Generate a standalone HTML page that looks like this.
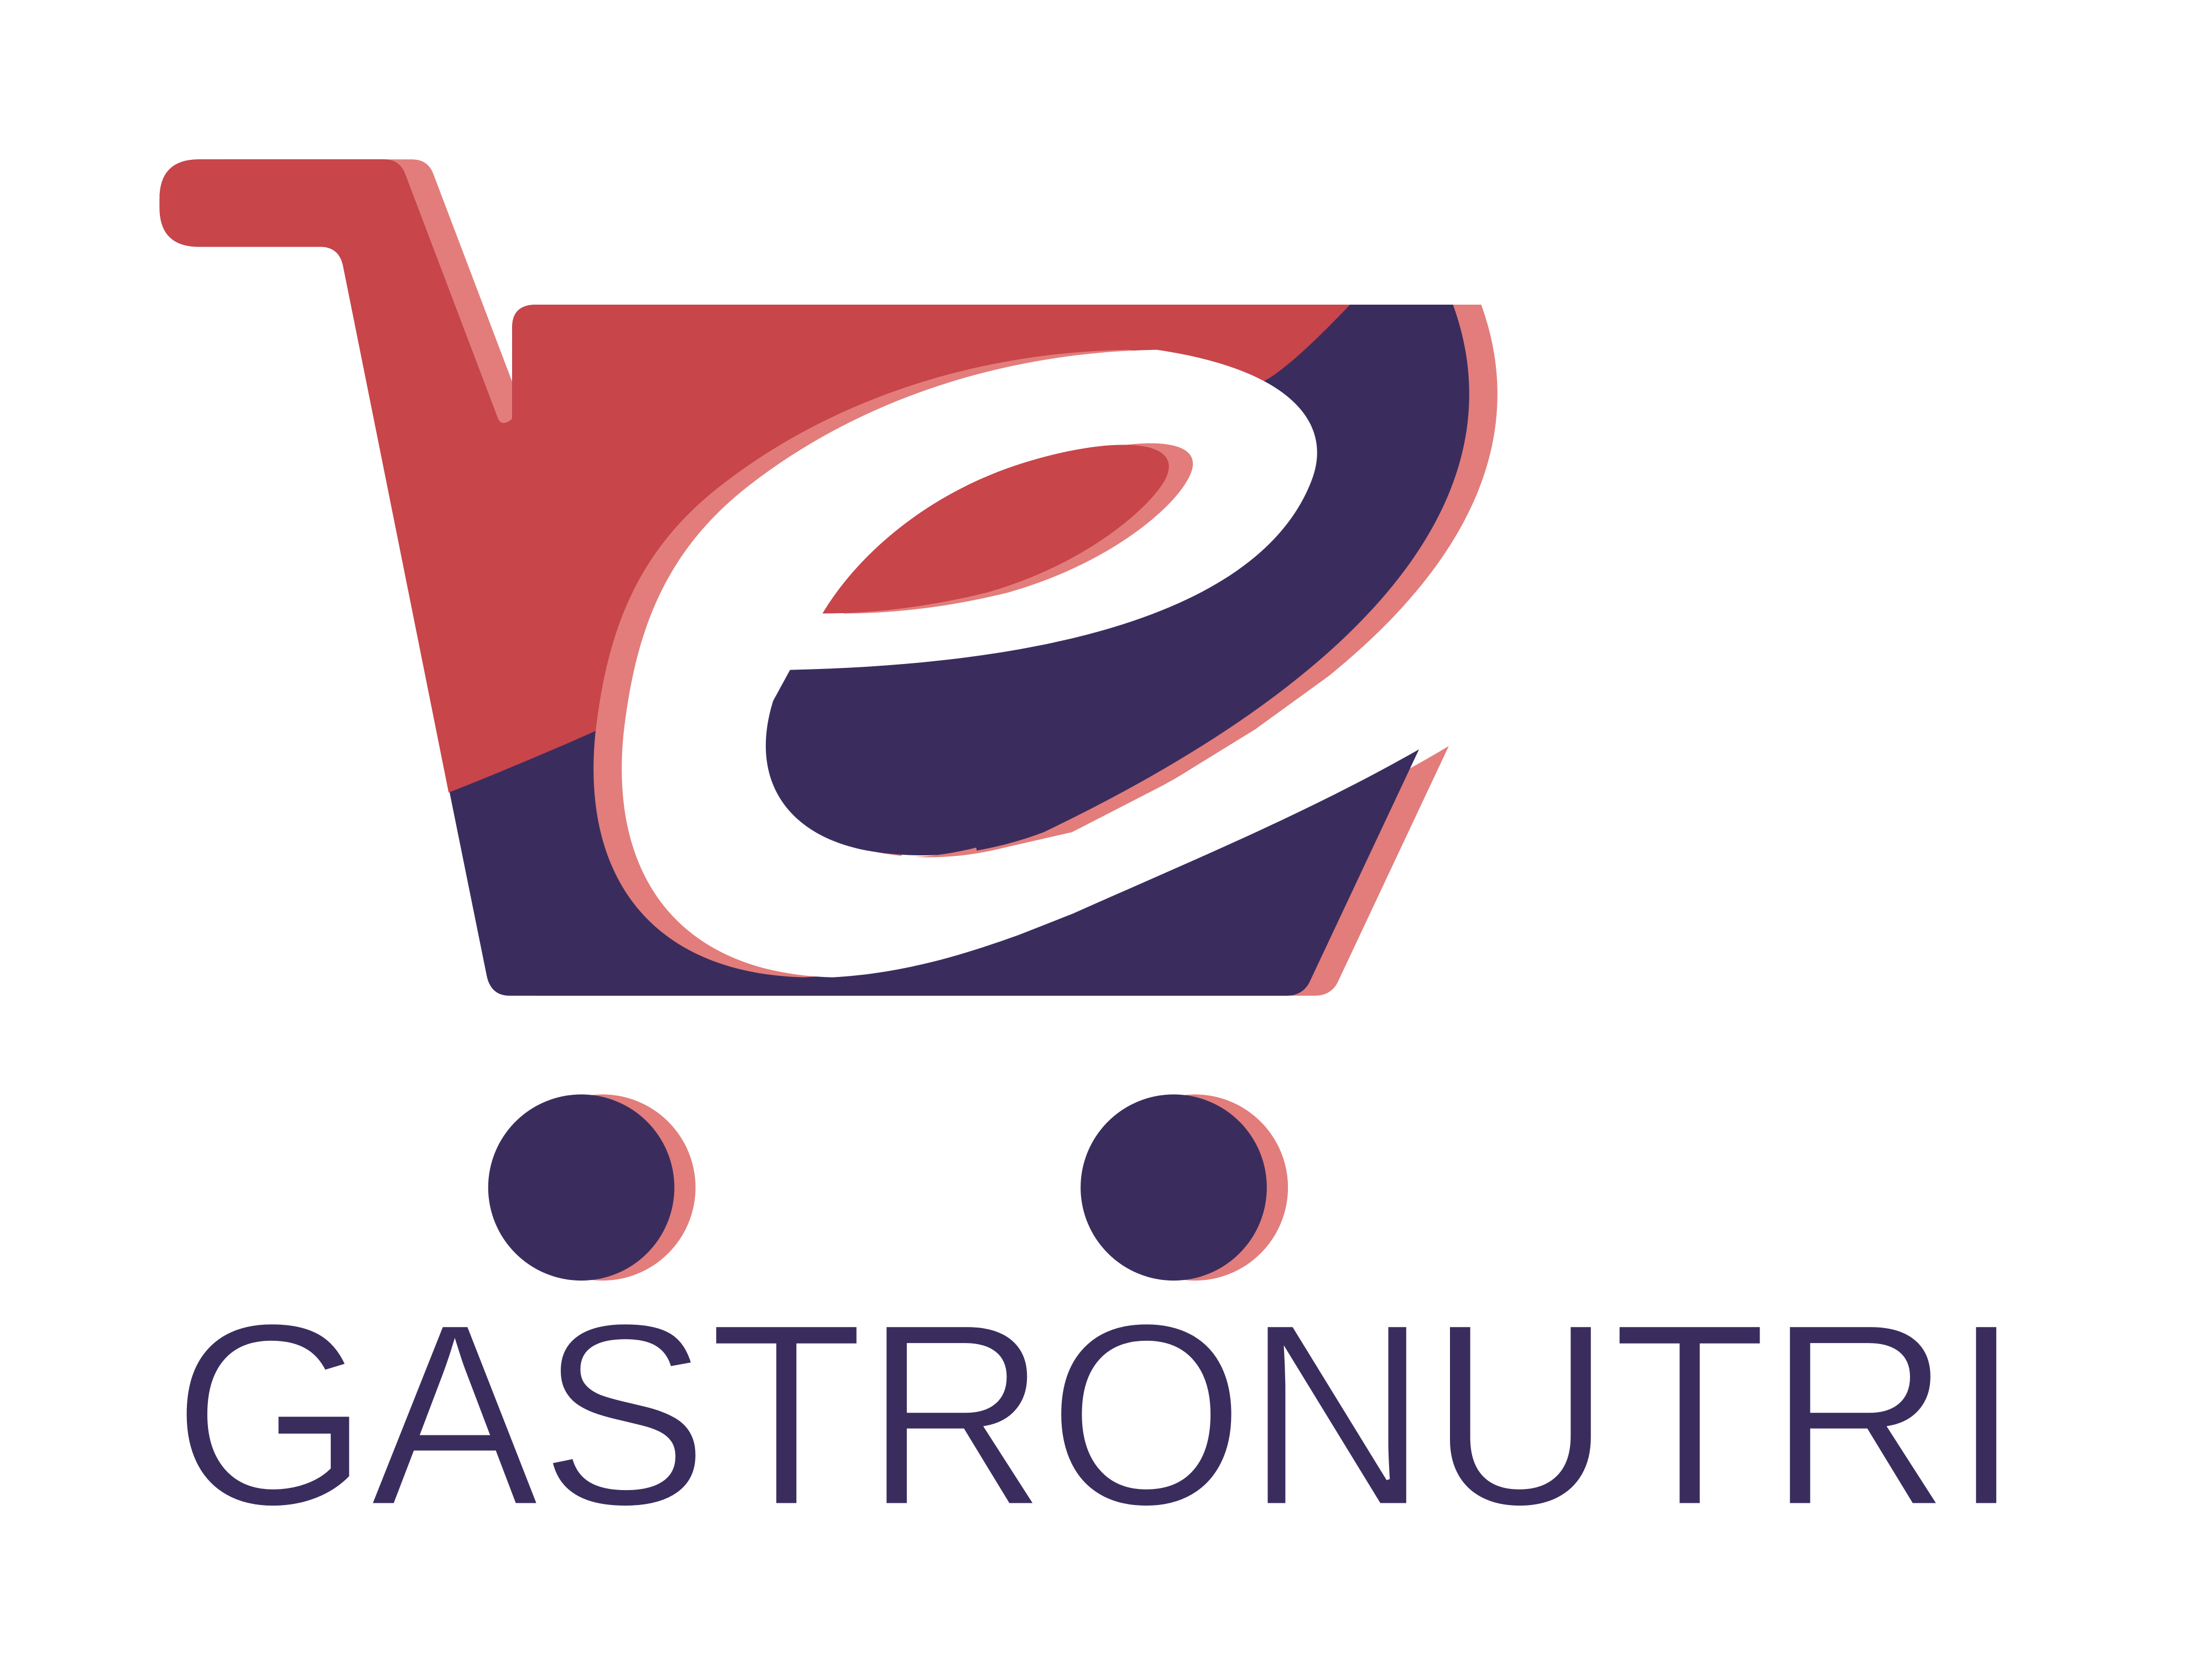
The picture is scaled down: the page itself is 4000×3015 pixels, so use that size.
<!DOCTYPE html>
<html><head><meta charset="utf-8"><style>
html,body{margin:0;padding:0;background:#fff;width:4000px;height:3015px;overflow:hidden}
svg{display:block}
</style></head><body>
<svg width="4000" height="3015" viewBox="0 0 1568 1182" xmlns="http://www.w3.org/2000/svg">
<defs>
<path id="cart" d="M141,113 H272 Q283,113 287,123 L353,297 Q356,303 363,297 V232 Q363,216 380,216 H1030 C1075,340 990,470 740,590 C700,605 660,610 620,604 L590,693 C650,690 700,670 760,648 C850,608 930,575 1007,529 L928,697 Q923,706 912,706 H361 Q348,706 345,692 L243,188 Q240,175 227,175 H141 Q113,175 113,147 V141 Q113,113 141,113 Z"/>
<path id="eshape" d="M820,248 C700,250 600,290 530,345 C470,392 450,450 442,520 C432,620 480,690 590,693 C640,690 680,678 722,663 L712,601 C680,609 650,610 620,604 C560,595 530,555 548,497 L560,475 C780,470 900,420 930,340 C945,300 915,262 820,248 Z"/>
</defs>
<use href="#cart" fill="#E27D7B" transform="translate(20,0)"/>
<use href="#cart" fill="#3A2D5E"/>
<path fill="#fff" d="M712,601 L760,590 L830,554 L890,517 L941,480 L1060,480 L1010,529 C930,575 850,608 760,648 L722,663 Z"/>
<path fill="#C8454A" d="M141,113 H272 Q283,113 287,123 L353,297 Q356,303 363,297 V232 Q363,216 380,216 H957 Q920,255 900,268 L700,380 Q500,490 318,562 L243,188 Q240,175 227,175 H141 Q113,175 113,147 V141 Q113,113 141,113 Z"/>
<use href="#eshape" fill="#E27D7B" transform="translate(-20,0)"/>
<use href="#eshape" fill="#fff"/>
<path fill="#E27D7B" d="M598,435 C625,390 675,350 735,330 C795,310 862,305 842,340 C830,362 785,400 715,420 C675,430 635,435 598,435 Z"/>
<path fill="#C8454A" d="M583,435 C610,390 660,350 720,330 C780,310 842,308 826,340 C815,360 770,400 700,420 C660,430 620,435 583,435 Z"/>
<circle cx="427" cy="842" r="66" fill="#E27D7B"/>
<circle cx="412" cy="842" r="66" fill="#3A2D5E"/>
<circle cx="847" cy="842" r="66" fill="#E27D7B"/>
<circle cx="832" cy="842" r="66" fill="#3A2D5E"/>
<text x="122" y="1067" font-family="Liberation Sans, sans-serif" font-size="185" fill="#3A2D5E" stroke="#fff" stroke-width="2.5" textLength="1311" lengthAdjust="spacingAndGlyphs">GASTRONUTRI</text>
</svg>
</body></html>
